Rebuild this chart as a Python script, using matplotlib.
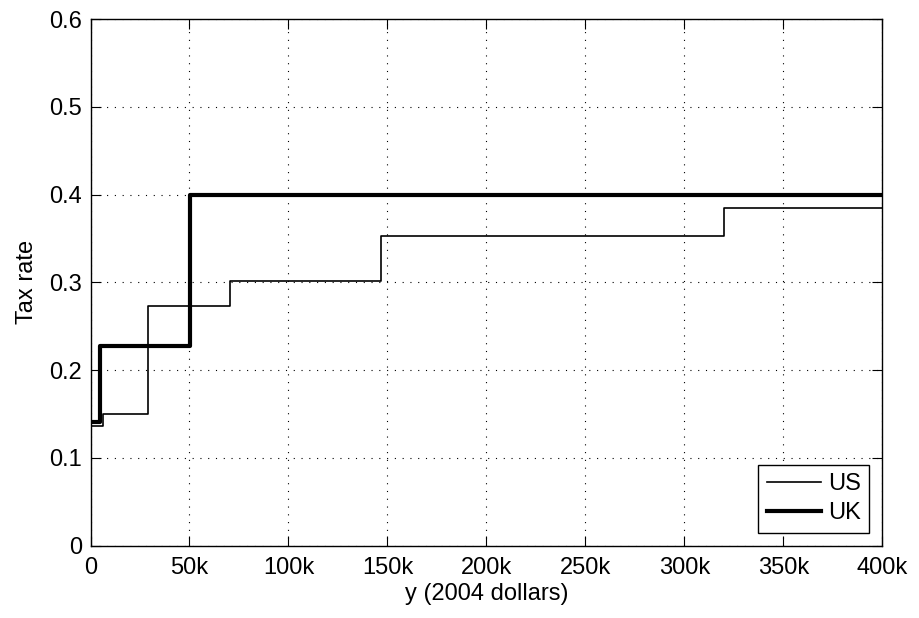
import numpy as np
import matplotlib.pyplot as plt
from matplotlib.ticker import FuncFormatter

plt.rcParams['font.family'] = ['Liberation Sans', 'DejaVu Sans']

# income thresholds (2004 dollars) and marginal tax rates
us_y = [0, 6500, 29000, 70500, 147000, 320000, 400000]
us_rate = [0.136, 0.15, 0.273, 0.302, 0.353, 0.385, 0.385]

uk_y = [0, 5000, 50400, 400000]
uk_rate = [0.141, 0.228, 0.40, 0.40]

fig = plt.figure(figsize=(9.19, 6.18), dpi=100)
ax = fig.add_axes([0.0985, 0.117, 0.8615, 0.852])

ax.step(us_y, us_rate, where='post', color='k', lw=1.2, label='US')
ax.step(uk_y, uk_rate, where='post', color='k', lw=3.0, label='UK')

ax.set_xlim(0, 400000)
ax.set_ylim(0, 0.6)
ax.set_xticks(np.arange(0, 400001, 50000))
ax.set_yticks(np.arange(0, 0.61, 0.1))
ax.xaxis.set_major_formatter(FuncFormatter(lambda v, p: '0' if v == 0 else f'{int(v / 1000)}k'))
ax.yaxis.set_major_formatter(FuncFormatter(lambda v, p: '0' if abs(v) < 1e-9 else f'{v:.1f}'))

ax.grid(True, color='k', linestyle=(0, (1, 6)), linewidth=0.8)
ax.tick_params(direction='in', length=7, width=0.8, labelsize=17, top=True, right=True)
ax.tick_params(axis='x', pad=8)
ax.tick_params(axis='y', pad=6)
for s in ax.spines.values():
    s.set_linewidth(1.0)

ax.set_xlabel('y (2004 dollars)', fontsize=17, labelpad=3)
ax.set_ylabel('Tax rate', fontsize=17, labelpad=8)

leg = ax.legend(loc='lower right', fontsize=17, fancybox=False, framealpha=1,
                edgecolor='k', handlelength=2.3, handletextpad=0.3,
                borderaxespad=0.55, borderpad=0.35, labelspacing=0.3)
leg.get_frame().set_linewidth(1.0)

fig.savefig('out.png', dpi=100)
